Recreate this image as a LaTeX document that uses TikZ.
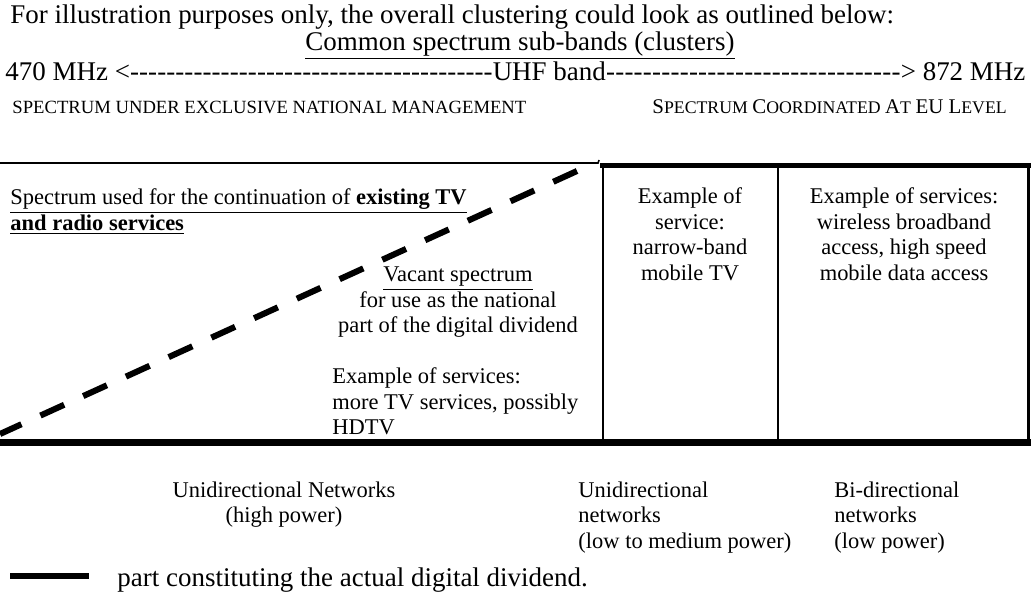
\documentclass[tikz,border=0pt]{standalone}
\usepackage{fontspec}
\setmainfont{Liberation Serif}
\begin{document}
\begin{tikzpicture}[x=0.445pt,y=-0.445pt,
  big/.style={inner sep=0pt, font=\fontsize{12}{13.8}\selectfont},
  small/.style={inner sep=0pt, font=\fontsize{10}{11.5}\selectfont},
  hdr/.style={inner sep=0pt, font=\fontsize{8.3}{10}\selectfont},
  hairline/.style={line width=0.7pt},
  frame/.style={line width=0.9pt},
  heavy/.style={line width=2.6pt},
  split/.style={line width=2.7pt, dash pattern=on 11.6pt off 9.3pt}]
\useasboundingbox (0,0) rectangle (1031,601);

% heading lines
\node[big, anchor=base west] (intro) at (10,23) {For illustration purposes only, the overall clustering could look as outlined below:};
\node[big, anchor=base] (title) at (520,50) {\underline{Common spectrum sub-bands (clusters)}};
\node[big, anchor=base west] (band) at (5,80)
  {\hbox to 453.9pt{470 MHz <\xleaders\hbox{-}\hskip 0pt plus 1.23fill UHF band\xleaders\hbox{-}\hskip 0pt plus 1fill> 872 MHz}};
\node[hdr, anchor=base west] (national) at (12,113) {SPECTRUM UNDER EXCLUSIVE NATIONAL MANAGEMENT};
\node[hdr, anchor=base west, font=\fontsize{7.9}{10}\selectfont] (eu) at (652,113)
  {{\fontsize{9.3}{10}\selectfont S}PECTRUM {\fontsize{9.3}{10}\selectfont C}OORDINATED {\fontsize{9.3}{10}\selectfont A}T {\fontsize{9.3}{10}\selectfont EU L}EVEL};

% frame of the band
\coordinate (tl) at (0,163);
\coordinate (tm) at (598,163);
\coordinate (tick) at (599,160);
\coordinate (b1) at (603,165);
\coordinate (b2) at (778,165);
\coordinate (b3) at (1028.5,165);
\coordinate (f1) at (603,443);
\coordinate (f2) at (778,443);
\coordinate (f3) at (1028.5,443);
\draw[hairline] (tl) -- (tm) -- (tick);
\draw[heavy] (600,165.5) -- (1031,165.5);
\draw[frame] (b1) -- (f1);
\draw[frame] (b2) -- (f2);
\draw[line width=1.3pt] (b3) -- (f3);
\draw[line width=3.1pt] (0,442.7) -- (1031,442.7);

% boundary of the vacant part
\coordinate (d1) at (577,171);
\coordinate (d0) at (0,434);
\draw[split] (d1) -- (d0);

% left cluster texts
\node[small, anchor=north west, align=left] (cont) at (10,188)
  {\underline{Spectrum used for the continuation of \textbf{existing TV}}\\\underline{\textbf{and radio services}}};
\node[small, align=center, anchor=north] (vacant) at (458,266)
  {\underline{Vacant spectrum}\\for use as the national\\part of the digital dividend};
\node[small, align=left, anchor=north west] (natex) at (332,367)
  {Example of services:\\more TV services, possibly\\HDTV};

% EU level clusters
\node[small, align=center, anchor=north] (mobtv) at (690,187) {Example of\\service:\\narrow-band\\mobile TV};
\node[small, align=center, anchor=north] (bwa) at (904,187) {Example of services:\\wireless broadband\\access, high speed\\mobile data access};

% network types
\node[small, align=center, anchor=north] (hp) at (284,481) {Unidirectional Networks\\(high power)};
\node[small, align=left, anchor=north west] (lmp) at (578,481) {Unidirectional\\networks\\(low to medium power)};
\node[small, align=left, anchor=north west] (lp) at (834,481) {Bi-directional\\networks\\(low power)};

% legend
\coordinate (l0) at (10,576);
\coordinate (l1) at (89,576);
\draw[heavy] (l0) -- (l1);
\node[big, anchor=base west] (legend) at (117,586) {part constituting the actual digital dividend.};
\end{tikzpicture}
\end{document}
